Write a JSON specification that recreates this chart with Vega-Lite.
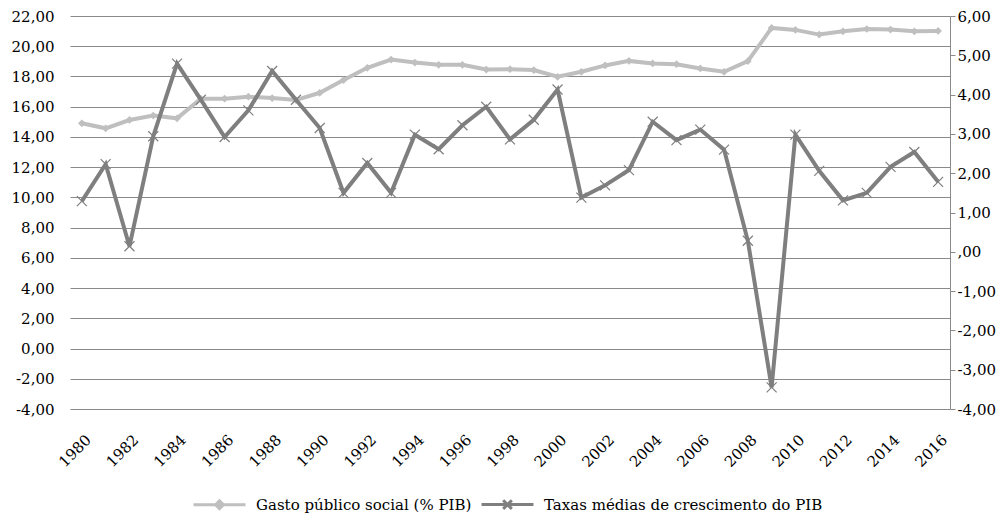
{
  "$schema": "https://vega.github.io/schema/vega-lite/v6.json",
  "autosize": {"type": "none"},
  "width": 880,
  "height": 393,
  "padding": {"left": 70, "top": 16, "right": 58, "bottom": 107},
  "background": "white",
  "config": {
    "font": "DejaVu Serif",
    "view": {"stroke": null},
    "axis": {"labelFont": "DejaVu Serif", "labelFontSize": 15, "labelColor": "black", "title": null},
    "legend": {"labelFont": "DejaVu Serif"}
  },
  "data": {
    "values": [
      {"ano": 1980, "gasto": 14.90, "pib": 1.29},
      {"ano": 1981, "gasto": 14.57, "pib": 2.23},
      {"ano": 1982, "gasto": 15.12, "pib": 0.14},
      {"ano": 1983, "gasto": 15.41, "pib": 2.94},
      {"ano": 1984, "gasto": 15.23, "pib": 4.79},
      {"ano": 1985, "gasto": 16.53, "pib": 3.87},
      {"ano": 1986, "gasto": 16.53, "pib": 2.92},
      {"ano": 1987, "gasto": 16.66, "pib": 3.60},
      {"ano": 1988, "gasto": 16.57, "pib": 4.60},
      {"ano": 1989, "gasto": 16.44, "pib": 3.87},
      {"ano": 1990, "gasto": 16.92, "pib": 3.15},
      {"ano": 1991, "gasto": 17.76, "pib": 1.50},
      {"ano": 1992, "gasto": 18.57, "pib": 2.26},
      {"ano": 1993, "gasto": 19.12, "pib": 1.50},
      {"ano": 1994, "gasto": 18.92, "pib": 2.98},
      {"ano": 1995, "gasto": 18.77, "pib": 2.61},
      {"ano": 1996, "gasto": 18.77, "pib": 3.22},
      {"ano": 1997, "gasto": 18.46, "pib": 3.69},
      {"ano": 1998, "gasto": 18.48, "pib": 2.86},
      {"ano": 1999, "gasto": 18.42, "pib": 3.36},
      {"ano": 2000, "gasto": 17.98, "pib": 4.13},
      {"ano": 2001, "gasto": 18.31, "pib": 1.38},
      {"ano": 2002, "gasto": 18.73, "pib": 1.69},
      {"ano": 2003, "gasto": 19.03, "pib": 2.08},
      {"ano": 2004, "gasto": 18.86, "pib": 3.31},
      {"ano": 2005, "gasto": 18.81, "pib": 2.84},
      {"ano": 2006, "gasto": 18.53, "pib": 3.11},
      {"ano": 2007, "gasto": 18.31, "pib": 2.60},
      {"ano": 2008, "gasto": 19.01, "pib": 0.28},
      {"ano": 2009, "gasto": 21.21, "pib": -3.45},
      {"ano": 2010, "gasto": 21.08, "pib": 2.98},
      {"ano": 2011, "gasto": 20.77, "pib": 2.06},
      {"ano": 2012, "gasto": 20.99, "pib": 1.31},
      {"ano": 2013, "gasto": 21.14, "pib": 1.50},
      {"ano": 2014, "gasto": 21.10, "pib": 2.16},
      {"ano": 2015, "gasto": 20.99, "pib": 2.54},
      {"ano": 2016, "gasto": 21.01, "pib": 1.78}
    ]
  },
  "encoding": {
    "x": {
      "field": "ano",
      "type": "ordinal",
      "scale": {"type": "point", "padding": 0.5},
      "axis": {
        "values": [1980, 1982, 1984, 1986, 1988, 1990, 1992, 1994, 1996, 1998, 2000, 2002, 2004, 2006, 2008, 2010, 2012, 2014, 2016],
        "labelAngle": -45,
        "labelAlign": "right",
        "labelBaseline": "middle",
        "labelPadding": 28,
        "labelOffset": 6,
        "ticks": false,
        "domain": false,
        "grid": false
      }
    }
  },
  "layer": [
    {
      "encoding": {
        "y": {
          "field": "gasto",
          "type": "quantitative",
          "scale": {"domain": [-4, 22], "nice": false, "zero": false},
          "axis": {
            "values": [-4, -2, 0, 2, 4, 6, 8, 10, 12, 14, 16, 18, 20, 22],
            "labelExpr": "(datum.value < 0 ? '-' : '') + replace(format(abs(datum.value), '.2f'), '.', ',')",
            "grid": true,
            "gridColor": "#8a8a8a",
            "gridWidth": 1,
            "domain": false,
            "ticks": false,
            "labelPadding": 16
          }
        }
      },
      "layer": [
        {
          "mark": {"type": "line", "strokeWidth": 4},
          "encoding": {
            "color": {
              "datum": "Gasto público social (% PIB)",
              "scale": {"domain": ["Gasto público social (% PIB)", "Taxas médias de crescimento do PIB"], "range": ["#bfbfbf", "#7f7f7f"]},
              "legend": {
                "orient": "none",
                "legendX": 139,
                "legendY": 478,
                "direction": "horizontal",
                "title": null,
                "labelFontSize": 15,
                "labelColor": "black",
                "labelLimit": 400,
                "symbolSize": 300,
                "labelOffset": 26,
                "columnPadding": 3,
                "encode": {
                  "symbols": {
                    "update": {
                      "shape": {"signal": "datum.value === 'Gasto público social (% PIB)' ? 'M-3,0L3,0M0,-0.45L0.45,0L0,0.45L-0.45,0Z' : 'M-3,0L3,0M-0.5,-0.5L0.5,0.5M-0.5,0.5L0.5,-0.5'"},
                      "fill": {"signal": "datum.value === 'Gasto público social (% PIB)' ? '#bfbfbf' : 'transparent'"},
                      "stroke": {"signal": "datum.value === 'Gasto público social (% PIB)' ? '#bfbfbf' : '#7f7f7f'"},
                      "strokeWidth": {"value": 3},
                      "opacity": {"value": 1}
                    }
                  }
                }
              }
            }
          }
        },
        {
          "mark": {"type": "point", "shape": "diamond", "filled": true, "size": 60, "opacity": 1},
          "encoding": {
            "color": {"datum": "Gasto público social (% PIB)", "legend": null}
          }
        }
      ]
    },
    {
      "encoding": {
        "y": {
          "field": "pib",
          "type": "quantitative",
          "scale": {"domain": [-4, 6], "nice": false, "zero": false},
          "axis": {
            "orient": "right",
            "values": [-4, -3, -2, -1, 0, 1, 2, 3, 4, 5, 6],
            "labelExpr": "datum.value == 0 ? ',00' : (datum.value < 0 ? '-' : '') + replace(format(abs(datum.value), '.2f'), '.', ',')",
            "grid": false,
            "domain": true,
            "domainColor": "#8a8a8a",
            "ticks": true,
            "tickSize": 5,
            "tickColor": "#8a8a8a",
            "labelAlign": "left",
            "labelPadding": 2
          }
        }
      },
      "layer": [
        {
          "mark": {"type": "line", "strokeWidth": 4},
          "encoding": {
            "color": {"datum": "Taxas médias de crescimento do PIB"}
          }
        },
        {
          "mark": {"type": "point", "shape": "M-1,-1L1,1M-1,1L1,-1", "filled": false, "size": 100, "strokeWidth": 1.2, "opacity": 1},
          "encoding": {
            "color": {"datum": "Taxas médias de crescimento do PIB", "legend": null}
          }
        }
      ]
    }
  ],
  "resolve": {"scale": {"y": "independent"}}
}
